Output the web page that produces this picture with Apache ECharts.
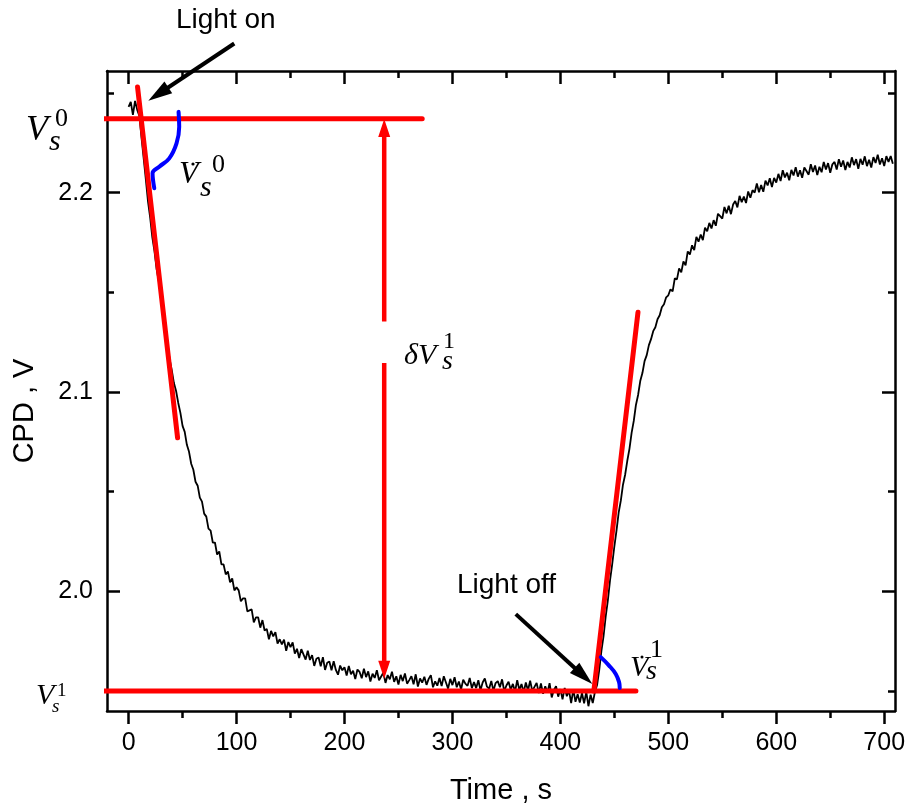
<!DOCTYPE html>
<html><head><meta charset="utf-8">
<script src="https://cdn.jsdelivr.net/npm/echarts@6/dist/echarts.min.js"></script>
<style>html,body{margin:0;padding:0;background:#fff}#c{width:909px;height:810px}</style>
</head><body><div id="c"></div>
<script>
// ---- data ----
const timeS = [
0,2,4,6,8,10,12,14,16,18,20,22,24,26,28,30,32,34,36,38,
40,42,44,46,48,50,52,54,56,58,60,62,64,66,68,70,72,74,76,78,
80,82,84,86,88,90,92,94,96,98,100,102,104,106,108,110,112,114,116,118,
120,122,124,126,128,130,132,134,136,138,140,142,144,146,148,150,152,154,156,158,
160,162,164,166,168,170,172,174,176,178,180,182,184,186,188,190,192,194,196,198,
200,202,204,206,208,210,212,214,216,218,220,222,224,226,228,230,232,234,236,238,
240,242,244,246,248,250,252,254,256,258,260,262,264,266,268,270,272,274,276,278,
280,282,284,286,288,290,292,294,296,298,300,302,304,306,308,310,312,314,316,318,
320,322,324,326,328,330,332,334,336,338,340,342,344,346,348,350,352,354,356,358,
360,362,364,366,368,370,372,374,376,378,380,382,384,386,388,390,392,394,396,398,
400,402,404,406,408,410,412,414,416,418,420,422,424,426,428,430,432,434,436,438,
440,442,444,446,448,450,452,454,456,458,460,462,464,466,468,470,472,474,476,478,
480,482,484,486,488,490,492,494,496,498,500,502,504,506,508,510,512,514,516,518,
520,522,524,526,528,530,532,534,536,538,540,542,544,546,548,550,552,554,556,558,
560,562,564,566,568,570,572,574,576,578,580,582,584,586,588,590,592,594,596,598,
600,602,604,606,608,610,612,614,616,618,620,622,624,626,628,630,632,634,636,638,
640,642,644,646,648,650,652,654,656,658,660,662,664,666,668,670,672,674,676,678,
680,682,684,686,688,690,692,694,696,698,700,702,704,706,708
];
const cpdV = [
2.2430,2.2455,2.2390,2.2460,2.2415,2.2385,2.2275,2.2170,2.2065,2.1955,2.1875,2.1775,2.1705,2.1615,2.1555,2.1475,2.1400,2.1320,2.1245,2.1165,
2.1110,2.1045,2.1005,2.0945,2.0895,2.0830,2.0800,2.0735,2.0700,2.0640,2.0610,2.0550,2.0530,2.0470,2.0450,2.0390,2.0375,2.0315,2.0305,2.0245,
2.0245,2.0185,2.0200,2.0135,2.0135,2.0085,2.0100,2.0045,2.0065,2.0005,2.0020,2.0005,1.9950,1.9965,1.9965,1.9900,1.9905,1.9910,1.9845,1.9870,
1.9870,1.9818,1.9856,1.9804,1.9812,1.9760,1.9802,1.9774,1.9796,1.9738,1.9760,1.9734,1.9758,1.9702,1.9746,1.9720,1.9744,1.9688,1.9712,1.9666,
1.9710,1.9684,1.9658,1.9702,1.9656,1.9680,1.9626,1.9662,1.9668,1.9624,1.9670,1.9606,1.9642,1.9648,1.9604,1.9650,1.9606,1.9582,1.9628,1.9604,
1.9620,1.9578,1.9626,1.9584,1.9602,1.9560,1.9608,1.9596,1.9564,1.9612,1.9570,1.9599,1.9548,1.9587,1.9566,1.9605,1.9554,1.9573,1.9592,1.9541,
1.9580,1.9559,1.9597,1.9546,1.9574,1.9533,1.9581,1.9550,1.9588,1.9537,1.9555,1.9575,1.9534,1.9584,1.9523,1.9563,1.9542,1.9572,1.9531,1.9561,
1.9580,1.9519,1.9549,1.9527,1.9566,1.9525,1.9574,1.9543,1.9512,1.9561,1.9530,1.9569,1.9519,1.9548,1.9508,1.9557,1.9537,1.9526,1.9566,1.9515,
1.9545,1.9515,1.9554,1.9504,1.9543,1.9563,1.9522,1.9512,1.9551,1.9501,1.9540,1.9550,1.9519,1.9559,1.9499,1.9528,1.9547,1.9507,1.9536,1.9496,
1.9555,1.9505,1.9535,1.9494,1.9543,1.9503,1.9552,1.9501,1.9521,1.9541,1.9490,1.9538,1.9486,1.9524,1.9492,1.9540,1.9468,1.9506,1.9524,1.9472,
1.9510,1.9458,1.9516,1.9474,1.9502,1.9440,1.9508,1.9446,1.9484,1.9442,1.9490,1.9438,1.9496,1.9424,1.9482,1.9440,1.9495,1.9530,1.9605,1.9700,
1.9775,1.9875,1.9955,2.0055,2.0135,2.0225,2.0305,2.0395,2.0455,2.0535,2.0585,2.0655,2.0715,2.0795,2.0855,2.0935,2.0985,2.1055,2.1095,2.1155,
2.1185,2.1235,2.1265,2.1305,2.1325,2.1365,2.1385,2.1425,2.1440,2.1475,2.1485,2.1515,2.1505,2.1570,2.1565,2.1620,2.1600,2.1655,2.1635,2.1705,
2.1690,2.1736,2.1712,2.1778,2.1754,2.1790,2.1762,2.1824,2.1806,2.1848,2.1820,2.1862,2.1834,2.1894,2.1882,2.1870,2.1928,2.1896,2.1934,2.1892,
2.1940,2.1958,2.1926,2.1984,2.1952,2.1980,2.1948,2.2006,2.1974,2.2012,2.2000,2.2046,2.2002,2.2038,2.2004,2.2060,2.2036,2.2072,2.2028,2.2074,
2.2050,2.2094,2.2058,2.2112,2.2076,2.2100,2.2062,2.2114,2.2086,2.2128,2.2080,2.2112,2.2074,2.2126,2.2108,2.2090,2.2142,2.2104,2.2136,2.2088,
2.2130,2.2102,2.2154,2.2116,2.2148,2.2100,2.2142,2.2154,2.2116,2.2168,2.2130,2.2161,2.2113,2.2154,2.2126,2.2177,2.2138,2.2168,2.2119,2.2169,
2.2140,2.2182,2.2133,2.2165,2.2126,2.2178,2.2149,2.2190,2.2141,2.2172,2.2133,2.2183,2.2154,2.2184,2.2145
];
const xTickValues = [0,100,200,300,400,500,600,700];
const xMinorTickValues = [50,150,250,350,450,550,650];
const yTickValues = [2.0,2.1,2.2];
const yMinorTickValues = [1.95,2.05,2.15,2.25];

// annotation geometry (data coordinates)
const baselineV0 = [[-48,2.237],[272,2.237]];
const baselineV1 = [[-48,1.950],[470,1.950]];
const tangentOn = [[8.3,2.253],[45.4,2.077]];
const tangentOff = [[431,1.950],[471.9,2.140]];
const arcOn = [[46.3,2.2405],[46.9,2.2330],[44.4,2.2247],[37.7,2.2172],[28.4,2.2130],[22.2,2.2097],[23.8,2.2022]];
const arcOff = [[437.4,1.9670],[445.1,1.9628],[451.3,1.9586],[454.4,1.9545],[455,1.9515]];
const deltaArrows = [[236.8,2.1354,236.8,2.2369],[236.8,2.1146,236.8,1.9562]];
const pointerArrows = [[97.9,2.2748,18.3,2.2461],[358.7,1.9886,429.6,1.9535]];

const chart = echarts.init(document.getElementById('c'), null, {renderer:'canvas'});
const AX = {color:'#000', width:2.5};
const SANS = 'Liberation Sans';

function xAx(pos, major, showLine, inside, len, showLabel) {
  return {type:'value', min:-20, max:710, position:pos, splitLine:{show:false},
    axisLine:{show:showLine, onZero:false, lineStyle:AX},
    axisTick:{show:true, inside:inside, length:len, lineStyle:AX, customValues: major ? xTickValues : xMinorTickValues},
    axisLabel:{show:showLabel, customValues:xTickValues, color:'#000', fontSize:25, fontFamily:SANS, margin:20},
    name: showLabel ? 'Time , s' : '', nameLocation:'middle', nameGap:65, nameMoveOverlap:false,
    nameTextStyle:{color:'#000', fontSize:29, fontFamily:SANS}};
}
function yAx(pos, major, showLine, len, showLabel) {
  return {type:'value', min:1.94, max:2.261, position:pos, splitLine:{show:false},
    axisLine:{show:showLine, onZero:false, lineStyle:AX},
    axisTick:{show:true, inside:true, length:len, lineStyle:AX, customValues: major ? yTickValues : yMinorTickValues},
    axisLabel:{show:showLabel, customValues:yTickValues, color:'#000', fontSize:25, fontFamily:SANS, margin:14,
      formatter: v => Number(v).toFixed(1)}};
}

function arrowRenderer(color, lineW, headLen, headW) {
  return function (params, api) {
    const p1 = api.coord([api.value(0), api.value(1)]);
    const p2 = api.coord([api.value(2), api.value(3)]);
    const dx = p2[0]-p1[0], dy = p2[1]-p1[1];
    const len = Math.hypot(dx, dy);
    const ux = dx/len, uy = dy/len, nx = -uy, ny = ux;
    const bx = p2[0]-ux*headLen, by = p2[1]-uy*headLen;
    return {type:'group', children:[
      {type:'line', shape:{x1:p1[0], y1:p1[1], x2:bx+ux*2, y2:by+uy*2}, style:{stroke:color, lineWidth:lineW}},
      {type:'polygon', shape:{points:[[p2[0],p2[1]],[bx+nx*headW/2, by+ny*headW/2],[bx-nx*headW/2, by-ny*headW/2]]}, style:{fill:color}}
    ]};
  };
}
function segLine(data, color, w, smooth) {
  return {type:'line', data:data, showSymbol:false, symbol:'none', clip:false, smooth:smooth||false,
    lineStyle:{color:color, width:w, cap:'round'}, z:4, silent:true};
}
function txt(x, y, text, font, extra) {
  return Object.assign({type:'text', x:x, y:y, z:10,
    style:{text:text, font:font, fill:'#000', align:'left', verticalAlign:'middle'}}, extra||{});
}

chart.setOption({
  animation:false,
  backgroundColor:'#fff',
  grid:{left:107, right:14, top:71, bottom:99, containLabel:false, outerBoundsMode:'none'},
  xAxis:[
    xAx('bottom', true, true, false, 13, true),
    xAx('bottom', false, false, false, 7, false),
    xAx('top', true, true, true, 13, false),
    xAx('top', false, false, true, 7, false)
  ],
  yAxis:[
    yAx('left', true, true, 13, true),
    yAx('left', false, false, 7, false),
    yAx('right', true, true, 13, false),
    yAx('right', false, false, 7, false)
  ],
  series:[
    {type:'line', data: timeS.map((t,i)=>[t, cpdV[i]]), showSymbol:false, symbol:'none',
     lineStyle:{color:'#000', width:1.8}, z:2, silent:true},
    segLine(baselineV0, '#ff0000', 5),
    segLine(baselineV1, '#ff0000', 5),
    segLine(tangentOn, '#ff0000', 5),
    segLine(tangentOff, '#ff0000', 5),
    segLine(arcOn, '#0000ff', 4, 0.4),
    segLine(arcOff, '#0000ff', 4, 0.4),
    {type:'custom', data:deltaArrows, encode:{x:[0,2], y:[1,3]}, clip:false, z:5, silent:true,
     renderItem: arrowRenderer('#ff0000', 4.5, 18, 12)},
    {type:'custom', data:pointerArrows, encode:{x:[0,2], y:[1,3]}, clip:false, z:5, silent:true,
     renderItem: arrowRenderer('#000', 4, 24, 14)}
  ],
  graphic:[
    {type:'text', x:25, y:411, rotation:Math.PI/2, z:10,
     style:{text:'CPD , V', font:'29px "Liberation Sans"', fill:'#000', align:'center', verticalAlign:'middle'}},
    txt(176, 20, 'Light on', '28px "Liberation Sans"'),
    txt(457, 585, 'Light off', '28px "Liberation Sans"'),
    // V_s^0 (left)
    txt(26, 131, 'V', 'italic 36px "Liberation Serif"'),
    txt(55, 119, '0', '26px "Liberation Serif"'),
    txt(49, 142, 's', 'italic 30px "Liberation Serif"'),
    // V_s^1 (left bottom)
    txt(36, 696, 'V', 'italic 30px "Liberation Serif"'),
    txt(57, 691, '1', '19px "Liberation Serif"'),
    txt(52, 707, 's', 'italic 19px "Liberation Serif"'),
    // dot V_s^0
    txt(179, 175, 'V', 'italic 32px "Liberation Serif"'),
    {type:'circle', shape:{cx:193, cy:164, r:1.6}, style:{fill:'#000'}, z:10},
    txt(212, 165, '0', '26px "Liberation Serif"'),
    txt(200, 188, 's', 'italic 30px "Liberation Serif"'),
    // dot V_s^1
    txt(630, 668, 'V', 'italic 30px "Liberation Serif"'),
    {type:'circle', shape:{cx:642, cy:657, r:1.5}, style:{fill:'#000'}, z:10},
    txt(650, 650, '1', '26px "Liberation Serif"'),
    txt(646, 672, 's', 'italic 28px "Liberation Serif"'),
    // delta V_s^1
    txt(404, 356, '\u03B4V', 'italic 30px "Liberation Serif"'),
    txt(443, 342, '1', '24px "Liberation Serif"'),
    txt(442, 362, 's', 'italic 28px "Liberation Serif"')
  ]
});
</script></body></html>
